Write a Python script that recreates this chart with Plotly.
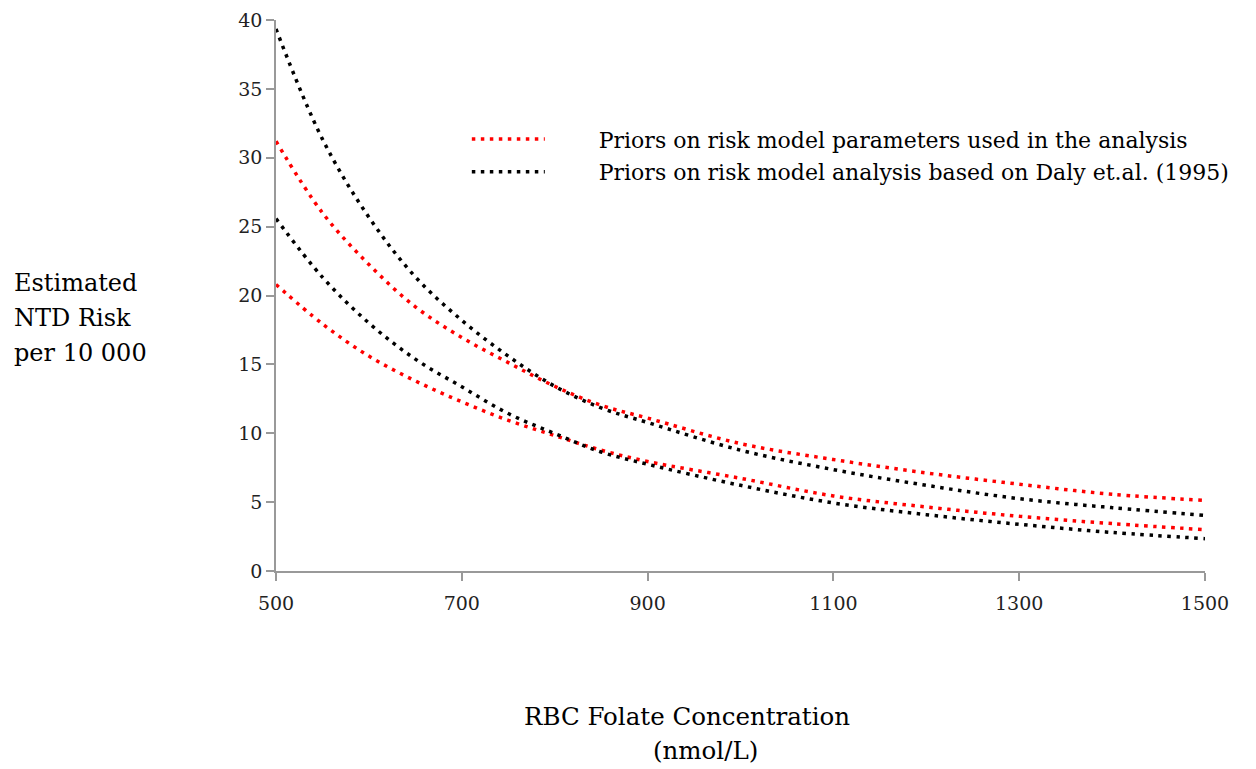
import plotly.graph_objects as go

folate = [500, 550, 600, 650, 700, 750, 800, 850, 900, 1000, 1100, 1200, 1300, 1400, 1500]

red_upper   = [31.2, 26.0, 22.25, 19.18, 16.95, 15.13, 13.41, 12.03, 11.1, 9.25, 8.09, 7.12, 6.3, 5.57, 5.13]
red_lower   = [20.8, 17.94, 15.6, 13.8, 12.28, 10.94, 9.83, 8.77, 7.95, 6.73, 5.45, 4.65, 3.97, 3.44, 3.0]
black_upper = [39.35, 31.35, 25.68, 21.35, 18.2, 15.6, 13.41, 11.84, 10.78, 8.77, 7.36, 6.22, 5.25, 4.6, 4.04]
black_lower = [25.58, 21.33, 18.0, 15.38, 13.37, 11.43, 9.98, 8.64, 7.75, 6.22, 4.94, 4.09, 3.39, 2.8, 2.35]

x_ticks = [500, 700, 900, 1100, 1300, 1500]
y_ticks = [0, 5, 10, 15, 20, 25, 30, 35, 40]

name_red = "Priors on risk model parameters used in the analysis"
name_black = "Priors on risk model analysis based on Daly et.al. (1995)"
y_title_lines = ["Estimated", "NTD Risk", "per 10 000"]
x_title_lines = ["RBC Folate Concentration", "(nmol/L)"]

FONT = "DejaVu Serif"
RED = "#ff0000"
BLACK = "#000000"
PAD = "\u00a0" * 7

fig = go.Figure()
line_red = dict(color=RED, width=3.5, dash="3.5px,5.5px", shape="spline")
line_black = dict(color=BLACK, width=3.5, dash="3.5px,5.5px", shape="spline")

fig.add_trace(go.Scatter(x=folate, y=red_upper, mode="lines", line=line_red,
                         name=PAD + name_red, legendgroup="red", showlegend=True))
fig.add_trace(go.Scatter(x=folate, y=red_lower, mode="lines", line=line_red,
                         name=PAD + name_red, legendgroup="red", showlegend=False))
fig.add_trace(go.Scatter(x=folate, y=black_upper, mode="lines", line=line_black,
                         name=PAD + name_black, legendgroup="black", showlegend=True))
fig.add_trace(go.Scatter(x=folate, y=black_lower, mode="lines", line=line_black,
                         name=PAD + name_black, legendgroup="black", showlegend=False))

annotations = []
for txt, yp in zip(y_title_lines, [0.5227, 0.4592, 0.3956]):
    annotations.append(dict(text=txt, xref="paper", yref="paper", x=-0.284, y=yp,
                            xanchor="left", yanchor="middle", showarrow=False,
                            font=dict(family=FONT, size=24, color="#000000")))
for txt, xp, yp in zip(x_title_lines, [0.4424, 0.4618], [-0.264, -0.326]):
    annotations.append(dict(text=txt, xref="paper", yref="paper", x=xp, y=yp,
                            xanchor="center", yanchor="middle", showarrow=False,
                            font=dict(family=FONT, size=24.5, color="#000000")))

fig.update_layout(
    width=1256, height=769,
    margin=dict(l=276, r=51, t=20, b=198, autoexpand=False),
    paper_bgcolor="white", plot_bgcolor="white",
    font=dict(family=FONT, color="#000000", size=19),
    legend=dict(x=0.2054, y=0.7535, xanchor="left", yanchor="middle",
                font=dict(family=FONT, size=22), bgcolor="rgba(0,0,0,0)",
                tracegroupgap=1, itemwidth=73),
    xaxis=dict(range=[500, 1500], tickvals=x_ticks, showgrid=False, zeroline=False,
               showline=True, linecolor="#999999", linewidth=1.5,
               ticks="outside", ticklen=8, tickcolor="#999999", tickwidth=1.5,
               ticklabelstandoff=6,
               tickfont=dict(family=FONT, size=19, color="#222222")),
    yaxis=dict(range=[0, 40], tickvals=y_ticks, showgrid=False, zeroline=False,
               showline=True, linecolor="#999999", linewidth=1.5,
               ticks="outside", ticklen=8, tickcolor="#999999", tickwidth=1.5,
               tickfont=dict(family=FONT, size=19, color="#222222")),
    annotations=annotations,
)

fig.write_html("out.html")
